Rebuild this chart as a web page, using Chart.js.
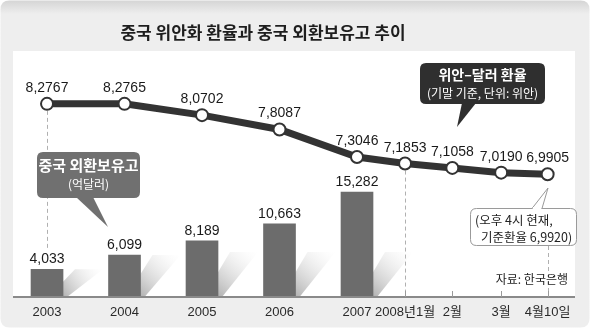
<!DOCTYPE html>
<html>
<head>
<meta charset="utf-8">
<script src="https://cdn.jsdelivr.net/npm/chart.js@4/dist/chart.umd.min.js"></script>
<style>
html,body{margin:0;padding:0;background:#fff;}
#wrap{width:590px;height:328px;position:relative;}
</style>
</head>
<body>
<div id="wrap"><canvas id="c" width="590" height="328"></canvas></div>
<script>
// ---- data ----
const categories = ['2003', '2004', '2005', '2006', '2007', '2008년1월', '2월', '3월', '4월10일'];
const slots = [0, 1, 2, 3, 4, 4.62, 5.23, 5.86, 6.46];         // category slots along the x axis
const rateValues = [8.2767, 8.2765, 8.0702, 7.8087, 7.3046, 7.1853, 7.1058, 7.0190, 6.9905]; // 위안/달러
const reserveValues = [4033, 6099, 8189, 10663, 15282];         // 억달러, 2003-2007
const rateLabels = ['8,2767', '8,2765', '8,0702', '7,8087', '7,3046', '7,1853', '7,1058', '7,0190', '6,9905'];
const reserveLabels = ['4,033', '6,099', '8,189', '10,663', '15,282'];

const title = '중국 위안화 환율과 중국 외환보유고 추이';
const NUM = '"Liberation Sans", "Noto Sans CJK KR", Arial, sans-serif';
const KR = '"Noto Sans CJK KR", "Liberation Sans", sans-serif';

function rr(ctx, x, y, w, h, r) {
  ctx.beginPath();
  ctx.moveTo(x + r, y);
  ctx.lineTo(x + w - r, y);
  ctx.quadraticCurveTo(x + w, y, x + w, y + r);
  ctx.lineTo(x + w, y + h - r);
  ctx.quadraticCurveTo(x + w, y + h, x + w - r, y + h);
  ctx.lineTo(x + r, y + h);
  ctx.quadraticCurveTo(x, y + h, x, y + h - r);
  ctx.lineTo(x, y + r);
  ctx.quadraticCurveTo(x, y, x + r, y);
  ctx.closePath();
}

const deco = {
  id: 'deco',
  beforeDraw(chart) {
    const ctx = chart.ctx, a = chart.chartArea;
    ctx.save();
    ctx.fillStyle = '#ffffff';
    ctx.fillRect(0, 0, chart.width, chart.height);
    rr(ctx, 0.5, 0.5, chart.width - 1, chart.height - 1, 9);
    const g = ctx.createLinearGradient(0, 0, 0, 14);
    g.addColorStop(0, '#d4d4d4');
    g.addColorStop(1, '#eeeeee');
    ctx.fillStyle = g;
    ctx.fill();
    ctx.fillStyle = '#ffffff';
    ctx.fillRect(a.left, a.top, a.right - a.left, a.bottom - a.top);
    // title
    ctx.fillStyle = '#1e1e1e';
    ctx.font = 'bold 17px ' + KR;
    ctx.textAlign = 'center';
    ctx.textBaseline = 'middle';
    ctx.fillText(title, 263, 33);
    ctx.restore();
  },
  beforeDatasetsDraw(chart) {
    const ctx = chart.ctx, a = chart.chartArea;
    const xs = chart.scales.x, yl = chart.scales.y;
    ctx.save();
    // dashed guides
    ctx.strokeStyle = '#b0b0b0';
    ctx.lineWidth = 1;
    ctx.setLineDash([4, 3]);
    const gx0 = Math.round(xs.getPixelForValue(slots[0])) + 0.5;
    ctx.beginPath(); ctx.moveTo(gx0, yl.getPixelForValue(rateValues[0])); ctx.lineTo(gx0, 250); ctx.stroke();
    const gx5 = Math.round(xs.getPixelForValue(slots[5])) + 0.5;
    ctx.beginPath(); ctx.moveTo(gx5, yl.getPixelForValue(rateValues[5])); ctx.lineTo(gx5, a.bottom); ctx.stroke();
    const gx8 = Math.round(xs.getPixelForValue(slots[8])) + 0.5;
    ctx.beginPath(); ctx.moveTo(gx8, 246); ctx.lineTo(gx8, a.bottom); ctx.stroke();
    ctx.setLineDash([]);
    // bar shadows
    const meta = chart.getDatasetMeta(1);
    meta.data.forEach(bar => {
      const p = bar.getProps(['x', 'y', 'base', 'width'], true);
      const right = p.x + p.width / 2;
      const h = Math.min(p.base - p.y, 45);
      const sg = ctx.createLinearGradient(right, p.base, right + 40, p.base - h);
      sg.addColorStop(0, 'rgba(150,150,150,0.75)');
      sg.addColorStop(1, 'rgba(235,235,235,0.0)');
      ctx.fillStyle = sg;
      ctx.beginPath();
      ctx.moveTo(right - 6, p.base);
      ctx.lineTo(right + 4, p.base);
      ctx.lineTo(right + 40, p.base - h);
      ctx.lineTo(right + 12, p.base - h);
      ctx.lineTo(right, p.base - h * 0.55);
      ctx.closePath();
      ctx.fill();
    });
    ctx.restore();
  },
  afterDraw(chart) {
    const ctx = chart.ctx, a = chart.chartArea;
    const xs = chart.scales.x;
    ctx.save();
    // axis line and ticks
    ctx.strokeStyle = '#8a8a8a';
    ctx.lineWidth = 2;
    ctx.beginPath(); ctx.moveTo(a.left, a.bottom); ctx.lineTo(a.right, a.bottom); ctx.stroke();
    ctx.lineWidth = 1;
    ctx.strokeStyle = '#9a9a9a';
    for (let i = 5; i < slots.length; i++) {
      const x = Math.round(xs.getPixelForValue(slots[i])) + 0.5;
      ctx.beginPath(); ctx.moveTo(x, a.bottom - 6); ctx.lineTo(x, a.bottom); ctx.stroke();
    }
    // value labels
    ctx.fillStyle = '#1a1a1a';
    ctx.textAlign = 'center';
    ctx.textBaseline = 'alphabetic';
    ctx.font = '14px ' + NUM;
    const lm = chart.getDatasetMeta(0);
    lm.data.forEach((pt, i) => {
      ctx.fillText(rateLabels[i], pt.x, pt.y - 12);
    });
    const bm = chart.getDatasetMeta(1);
    bm.data.forEach((bar, i) => {
      ctx.fillText(reserveLabels[i], bar.x, bar.y - 6);
    });
    // callout 1: 중국 외환보유고
    ctx.fillStyle = '#707070';
    rr(ctx, 37, 152, 103, 46, 6);
    ctx.fill();
    ctx.beginPath(); ctx.moveTo(76, 197); ctx.lineTo(108, 227); ctx.lineTo(93, 197); ctx.closePath(); ctx.fill();
    ctx.fillStyle = '#ffffff';
    ctx.font = 'bold 15px ' + KR;
    ctx.textBaseline = 'middle';
    ctx.fillText('중국 외환보유고', 88.5, 165);
    ctx.font = '12px ' + KR;
    ctx.fillText('(억달러)', 88.5, 184);
    // callout 2: 위안-달러 환율
    ctx.fillStyle = '#2f2f2f';
    rr(ctx, 420, 63, 125, 41, 6);
    ctx.fill();
    ctx.beginPath(); ctx.moveTo(462, 103); ctx.lineTo(457, 127); ctx.lineTo(476, 103); ctx.closePath(); ctx.fill();
    ctx.fillStyle = '#ffffff';
    ctx.font = 'bold 14px ' + KR;
    ctx.fillText('위안–달러 환율', 482.5, 75);
    ctx.font = '12px ' + KR;
    ctx.fillText('(기말 기준, 단위: 위안)', 482.5, 93);
    // callout 3: 오후 4시 현재
    ctx.fillStyle = '#ffffff';
    ctx.strokeStyle = '#9a9a9a';
    ctx.lineWidth = 1;
    rr(ctx, 470.5, 208.5, 106, 37, 6);
    ctx.fill(); ctx.stroke();
    ctx.beginPath(); ctx.moveTo(532, 208.5); ctx.lineTo(548, 188); ctx.lineTo(542, 208.5); ctx.closePath();
    ctx.fill();
    ctx.beginPath(); ctx.moveTo(532, 208.5); ctx.lineTo(548, 188); ctx.lineTo(542, 208.5); ctx.stroke();
    ctx.fillStyle = '#ffffff';
    ctx.fillRect(533, 207, 8, 3);
    ctx.fillStyle = '#222';
    ctx.font = '12.5px ' + KR;
    ctx.textAlign = 'left';
    ctx.fillText('(오후 4시 현재,', 475, 220);
    ctx.fillText('기준환율 6,9920)', 481, 237);
    // source
    ctx.textAlign = 'right';
    ctx.font = '12px ' + KR;
    ctx.fillText('자료: 한국은행', 568, 279);
    ctx.restore();
  }
};

new Chart(document.getElementById('c'), {
  type: 'bar',
  data: {
    datasets: [
      {
        type: 'line',
        label: '위안-달러 환율',
        data: slots.map((s, i) => ({ x: s, y: rateValues[i] })),
        yAxisID: 'y',
        borderColor: '#333333',
        borderWidth: 7,
        pointRadius: 6,
        pointBorderWidth: 2,
        pointBackgroundColor: '#ffffff',
        pointBorderColor: '#333333',
        tension: 0,
        order: 0
      },
      {
        type: 'bar',
        label: '중국 외환보유고',
        data: reserveValues.map((v, i) => ({ x: slots[i], y: v })),
        yAxisID: 'y2',
        backgroundColor: '#6c6c6c',
        barThickness: 32,
        order: 1
      }
    ]
  },
  options: {
    responsive: false,
    animation: false,
    events: [],
    layout: { padding: { left: 13, right: 15, top: 51, bottom: 0 } },
    plugins: { legend: { display: false }, tooltip: { enabled: false }, title: { display: false } },
    scales: {
      x: {
        type: 'linear',
        min: -0.439,
        max: 6.813,
        offset: false,
        grid: { display: false, drawTicks: false },
        border: { display: false },
        afterBuildTicks: s => { s.ticks = slots.map(v => ({ value: v })); },
        afterFit: s => { s.height = 31; },
        ticks: {
          autoSkip: false,
          maxRotation: 0,
          padding: 8,
          color: '#2a2a2a',
          font: { family: NUM, size: 13 },
          callback: (v, i) => categories[i]
        }
      },
      y: { display: false, min: 4.746, max: 9.243 },
      y2: { display: false, min: 0, max: 35800 }
    }
  },
  plugins: [deco]
});
</script>
</body>
</html>
